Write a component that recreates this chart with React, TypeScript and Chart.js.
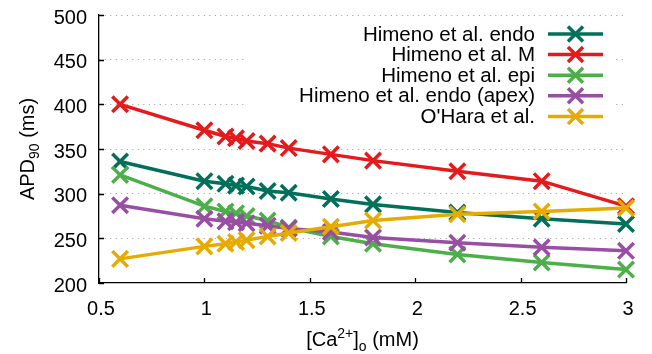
import React, { useEffect, useRef } from "react";
import { Chart, registerables } from "chart.js";

Chart.register(...registerables);

const caValues = [0.6, 1.0, 1.1, 1.15, 1.2, 1.3, 1.4, 1.6, 1.8, 2.2, 2.6, 3.0];
const endoValues = [336, 314, 311, 309, 308, 303, 301, 294, 288, 279, 272, 266];
const mValues = [400, 371, 364, 362, 359, 356, 351, 344, 337, 325, 314, 286];
const epiValues = [321, 286, 280, 278, 275, 270, 262, 252, 244, 232, 223, 215];
const apexValues = [287, 272, 269, 268, 267, 264, 261, 257, 251, 245, 240, 236];
const oharaValues = [227, 241, 244, 246, 248, 252, 256, 263, 270, 277, 280, 284];

const seriesLabels = [
  "Himeno et al. endo",
  "Himeno et al. M",
  "Himeno et al. epi",
  "Himeno et al. endo (apex)",
  "O'Hara et al.",
];
const seriesColors = ["#00705a", "#e41a1c", "#4daf4a", "#984ea3", "#e6ab02"];

const xTicks = [0.5, 1, 1.5, 2, 2.5, 3];
const xTickLabels = ["0.5", "1", "1.5", "2", "2.5", "3"];
const yTicks = [200, 250, 300, 350, 400, 450, 500];
const yTickLabels = ["200", "250", "300", "350", "400", "450", "500"];

const FONT = "'Liberation Sans', Arial, Helvetica, sans-serif";

function drawRich(ctx: CanvasRenderingContext2D, parts: { t: string; k: "n" | "sup" | "sub" }[], size: number, x: number, y: number) {
  const small = size * 0.7;
  let w = 0;
  for (const p of parts) {
    ctx.font = `${p.k === "n" ? size : small}px ${FONT}`;
    w += ctx.measureText(p.t).width;
  }
  let cx = x - w / 2;
  for (const p of parts) {
    ctx.font = `${p.k === "n" ? size : small}px ${FONT}`;
    const dy = p.k === "sup" ? -size * 0.42 : p.k === "sub" ? size * 0.25 : 0;
    ctx.fillText(p.t, cx, y + dy);
    cx += ctx.measureText(p.t).width;
  }
}

const customPlugin = {
  id: "custom",
  beforeDatasetsDraw(chart: any) {
    const ctx = chart.ctx;
    ctx.save();
    ctx.fillStyle = "#ffffff";
    ctx.fillRect(245, 24, 367, 104);
    ctx.restore();
  },
  afterDraw(chart: any) {
    const ctx = chart.ctx as CanvasRenderingContext2D;
    const xs = chart.scales.x;
    const ys = chart.scales.y;
    const { left, bottom } = chart.chartArea;
    ctx.save();
    ctx.strokeStyle = "#000";
    ctx.lineWidth = 1.3;
    ctx.beginPath();
    for (const v of xTicks) {
      const px = Math.round(xs.getPixelForValue(v)) + 0.5;
      ctx.moveTo(px, bottom);
      ctx.lineTo(px, bottom - 5);
    }
    for (const v of yTicks) {
      const py = Math.round(ys.getPixelForValue(v)) + 0.5;
      ctx.moveTo(left, py);
      ctx.lineTo(left + 5, py);
    }
    ctx.stroke();

    ctx.fillStyle = "#000";
    ctx.textBaseline = "alphabetic";
    ctx.textAlign = "left";
    drawRich(
      ctx,
      [
        { t: "[Ca", k: "n" },
        { t: "2+", k: "sup" },
        { t: "]", k: "n" },
        { t: "o", k: "sub" },
        { t: " (mM)", k: "n" },
      ],
      20,
      (chart.chartArea.left + chart.chartArea.right) / 2,
      346
    );
    ctx.save();
    ctx.translate(34, (chart.chartArea.top + chart.chartArea.bottom) / 2);
    ctx.rotate(-Math.PI / 2);
    drawRich(
      ctx,
      [
        { t: "APD", k: "n" },
        { t: "90", k: "sub" },
        { t: " (ms)", k: "n" },
      ],
      20,
      0,
      0
    );
    ctx.restore();

    const rowY = [34, 54.6, 75.2, 95.8, 116.4];
    ctx.font = `20.5px ${FONT}`;
    ctx.textAlign = "right";
    ctx.textBaseline = "middle";
    for (let i = 0; i < seriesLabels.length; i++) {
      const y = rowY[i];
      ctx.fillStyle = "#000";
      ctx.fillText(seriesLabels[i], 535, y + 1);
      ctx.strokeStyle = seriesColors[i];
      ctx.lineWidth = 3.5;
      ctx.beginPath();
      ctx.moveTo(548, y);
      ctx.lineTo(603, y);
      ctx.stroke();
      const r = 7.5;
      ctx.beginPath();
      ctx.moveTo(575.5 - r, y - r);
      ctx.lineTo(575.5 + r, y + r);
      ctx.moveTo(575.5 - r, y + r);
      ctx.lineTo(575.5 + r, y - r);
      ctx.stroke();
    }
    ctx.restore();
  },
};

export default function App() {
  const ref = useRef<HTMLCanvasElement | null>(null);
  useEffect(() => {
    if (!ref.current) return;
    const seriesValues = [endoValues, mValues, epiValues, apexValues, oharaValues];
    const datasets = seriesValues.map((vals, i) => ({
      label: seriesLabels[i],
      data: caValues.map((x, j) => ({ x, y: vals[j] })),
      borderColor: seriesColors[i],
      backgroundColor: seriesColors[i],
      borderWidth: 3.5,
      pointStyle: "crossRot" as const,
      pointRadius: 11,
      pointBorderWidth: 3.5,
      pointBorderColor: seriesColors[i],
      order: seriesValues.length - i,
      tension: 0,
      clip: false as any,
    }));
    const chart = new Chart(ref.current, {
      type: "line",
      data: { datasets },
      plugins: [customPlugin],
      options: {
        animation: false,
        responsive: false,
        maintainAspectRatio: false,
        layout: { padding: { left: 0, top: 15, right: 26, bottom: 0 } },
        plugins: { legend: { display: false }, tooltip: { enabled: false } },
        scales: {
          x: {
            type: "linear",
            min: 0.5,
            max: 3,
            afterBuildTicks: (s: any) => {
              s.ticks = xTicks.map((v) => ({ value: v }));
            },
            afterFit: (s: any) => {
              s.height = 71;
              s.paddingLeft = 0;
              s.paddingRight = 0;
            },
            ticks: {
              callback: (_v: any, i: number) => xTickLabels[i],
              font: { size: 20, family: FONT },
              color: "#000",
              padding: 14,
              labelOffset: 2,
              maxRotation: 0,
              autoSkip: false,
            },
            grid: { display: false, drawTicks: false },
            border: { display: true, color: "#000", width: 1.3 },
          },
          y: {
            type: "linear",
            min: 200,
            max: 500,
            afterBuildTicks: (s: any) => {
              s.ticks = yTicks.map((v) => ({ value: v }));
            },
            afterFit: (s: any) => {
              s.width = 99;
              s.paddingTop = 0;
              s.paddingBottom = 0;
            },
            ticks: {
              callback: (_v: any, i: number) => yTickLabels[i],
              font: { size: 20, family: FONT },
              color: "#000",
              padding: 12,
              labelOffset: 3,
              autoSkip: false,
            },
            grid: {
              drawTicks: false,
              color: (c: any) => (c.tick && c.tick.value === 200 ? "rgba(0,0,0,0)" : "#9a9a9a"),
              lineWidth: 1,
            },
            border: { display: true, color: "#000", width: 1.3, dash: [1, 4.5] },
          },
        },
      },
    });
    return () => chart.destroy();
  }, []);
  return (
    <div style={{ position: "fixed", left: 0, top: 0, width: 652, height: 354, background: "#fff" }}>
      <canvas ref={ref} width={652} height={354} style={{ width: 652, height: 354, display: "block" }} />
    </div>
  );
}
